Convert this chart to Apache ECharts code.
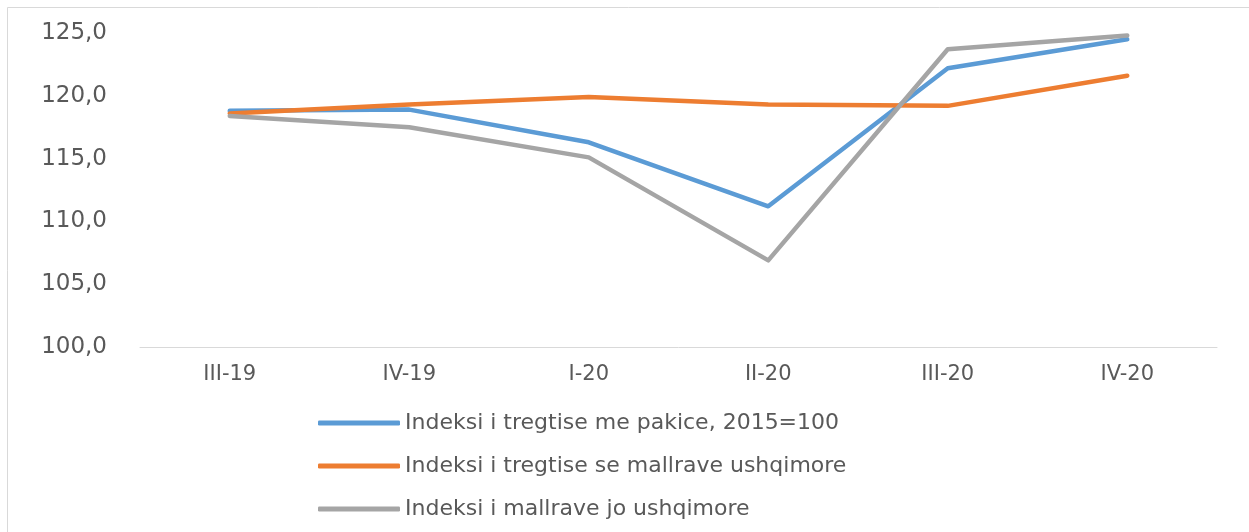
<!DOCTYPE html>
<html>
<head>
<meta charset="utf-8">
<script src="https://cdn.jsdelivr.net/npm/echarts@6/dist/echarts.min.js"></script>
<style>
  html, body { margin: 0; padding: 0; background: #fff; }
  #main { width: 1249px; height: 532px; }
</style>
</head>
<body>
<div id="main"></div>
<script>
var quarters = ['III-19', 'IV-19', 'I-20', 'II-20', 'III-20', 'IV-20'];
var seriesNames = [
  'Indeksi i tregtise me pakice, 2015=100',
  'Indeksi i tregtise se mallrave ushqimore',
  'Indeksi i mallrave jo ushqimore'
];
var retailIndex = [118.8, 118.9, 116.3, 111.2, 122.2, 124.5];
var foodIndex = [118.6, 119.3, 119.9, 119.3, 119.2, 121.6];
var nonFoodIndex = [118.4, 117.5, 115.1, 106.9, 123.7, 124.8];

var colors = ['#5B9BD5', '#ED7D31', '#A5A5A5'];
var textColor = '#595959';
var font = 'DejaVu Sans';

var chart = echarts.init(document.getElementById('main'));

function lineSeries(name, data, color) {
  return {
    name: name,
    type: 'line',
    data: data,
    symbol: 'none',
    smooth: false,
    lineStyle: { color: color, width: 4.5, cap: 'round', join: 'round' },
    itemStyle: { color: color }
  };
}

var option = {
  animation: false,
  backgroundColor: '#fff',
  color: colors,
  grid: { left: 140, right: 32, top: 33, bottom: 185, containLabel: false },
  xAxis: {
    type: 'category',
    data: quarters,
    boundaryGap: true,
    axisLine: { lineStyle: { color: '#d9d9d9', width: 1 } },
    axisTick: { show: false },
    axisLabel: { color: textColor, fontFamily: font, fontSize: 21, margin: 17 }
  },
  yAxis: {
    type: 'value',
    min: 100,
    max: 125,
    interval: 5,
    axisLine: { show: false },
    axisTick: { show: false },
    splitLine: { show: false },
    axisLabel: {
      color: textColor,
      fontFamily: font,
      fontSize: 23,
      margin: 33,
      formatter: function (v) { return v.toFixed(1).replace('.', ','); }
    }
  },
  legend: {
    orient: 'vertical',
    left: 313,
    top: 407,
    icon: 'roundRect',
    itemWidth: 82,
    itemHeight: 5,
    itemGap: 21,
    data: seriesNames,
    textStyle: { color: textColor, fontFamily: font, fontSize: 22, lineHeight: 22, padding: [0, 0, 0, 0] }
  },
  graphic: [{
    type: 'rect',
    shape: { x: 7.5, y: 7.5, width: 1300, height: 600 },
    style: { fill: 'none', stroke: '#d9d9d9', lineWidth: 1 },
    silent: true
  }],
  series: [
    lineSeries(seriesNames[0], retailIndex, colors[0]),
    lineSeries(seriesNames[1], foodIndex, colors[1]),
    lineSeries(seriesNames[2], nonFoodIndex, colors[2])
  ]
};

chart.setOption(option);
</script>
</body>
</html>
